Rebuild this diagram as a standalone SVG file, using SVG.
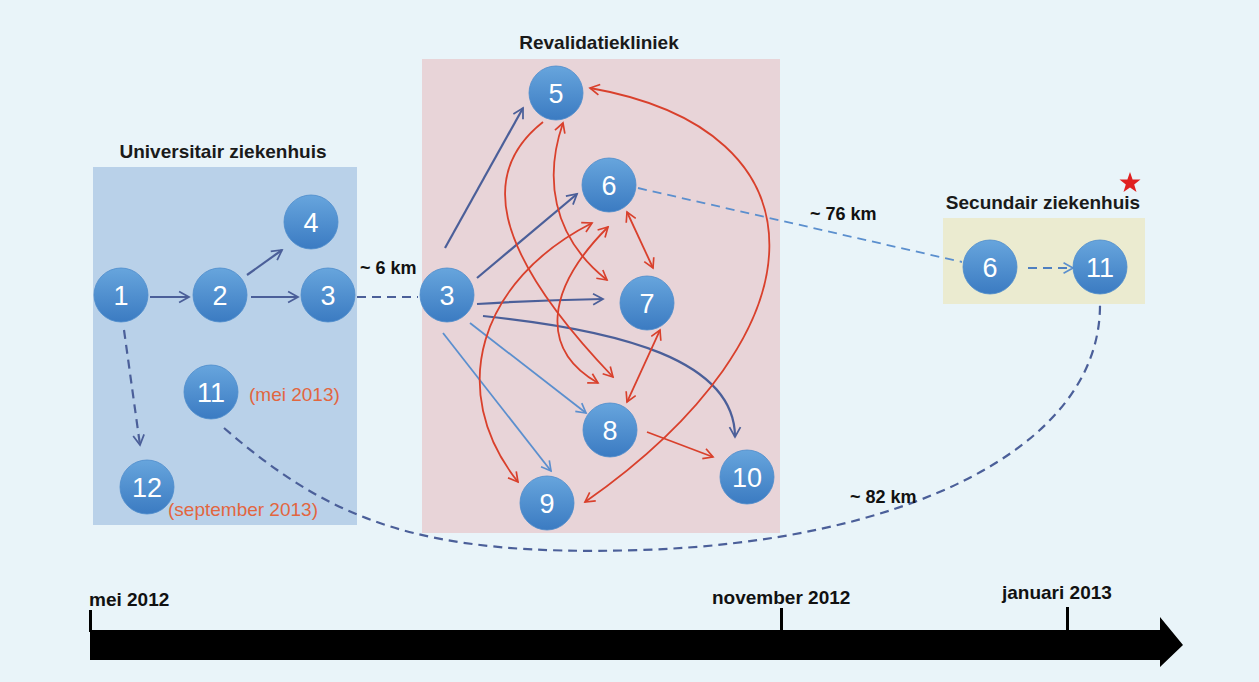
<svg xmlns="http://www.w3.org/2000/svg" width="1259" height="682" viewBox="0 0 1259 682">
<style>
.title{font-family:"Liberation Sans",Arial,sans-serif;font-weight:bold;font-size:19px;fill:#1a1a1a}
.km{font-family:"Liberation Sans",Arial,sans-serif;font-weight:bold;font-size:18px;fill:#111}
.tl{font-family:"Liberation Sans",Arial,sans-serif;font-weight:bold;font-size:19px;fill:#111}
.num{font-family:"Liberation Sans",Arial,sans-serif;font-size:27px;fill:#fff;text-anchor:middle;dominant-baseline:central}
.date{font-family:"Liberation Sans",Arial,sans-serif;font-size:19px;fill:#e2663f}
.node{fill:url(#ng);stroke:#4d8ccc;stroke-width:0.8}
.db{fill:none;stroke:#4b5f99;stroke-width:2.2}
.lb{fill:none;stroke:#5b8fce;stroke-width:1.8}
.rd{fill:none;stroke:#d9402c;stroke-width:1.8}
.dash{stroke-dasharray:9 6}
</style>
<defs>
<linearGradient id="ng" x1="0" y1="0" x2="0" y2="1">
<stop offset="0" stop-color="#67a5dd"/>
<stop offset="1" stop-color="#3b7bc2"/>
</linearGradient>
<marker id="adb" viewBox="0 0 12 12" refX="10" refY="6" markerWidth="6" markerHeight="6" orient="auto-start-reverse" markerUnits="strokeWidth"><path d="M1,1 L10,6 L1,11" fill="none" stroke="#4b5f99" stroke-width="1.6"/></marker>
<marker id="alb" viewBox="0 0 12 12" refX="10" refY="6" markerWidth="7" markerHeight="7" orient="auto-start-reverse" markerUnits="strokeWidth"><path d="M1,1 L10,6 L1,11" fill="none" stroke="#5b8fce" stroke-width="1.6"/></marker>
<marker id="ard" viewBox="0 0 12 12" refX="10" refY="6" markerWidth="7" markerHeight="7" orient="auto-start-reverse" markerUnits="strokeWidth"><path d="M1,1 L10,6 L1,11" fill="none" stroke="#d9402c" stroke-width="1.6"/></marker>
</defs>
<rect x="0" y="0" width="1259" height="682" fill="#e9f4f9"/>

<g id="universitair">
<rect x="93" y="167" width="264" height="358" fill="#b9d1e9"/>
<text class="title" x="223" y="158" text-anchor="middle">Universitair ziekenhuis</text>
</g>
<g id="revalidatie">
<rect x="422" y="59" width="358" height="474" fill="#e8d4d8"/>
<text class="title" x="599" y="49" text-anchor="middle">Revalidatiekliniek</text>
</g>
<g id="secundair">
<rect x="943" y="218" width="202" height="86" fill="#ebebd0"/>
<text class="title" x="1043" y="209" text-anchor="middle">Secundair ziekenhuis</text>
<polygon points="1130,172 1132.6,179.4 1140.5,179.6 1134.2,184.4 1136.5,192 1130,187.5 1123.5,192 1125.8,184.4 1119.5,179.6 1127.4,179.4" fill="#e02020"/>
</g>

<g id="connectors">
<line class="db" x1="150" y1="297" x2="189" y2="297" marker-end="url(#adb)"/>
<line class="db" x1="247" y1="275" x2="282" y2="250" marker-end="url(#adb)"/>
<line class="db" x1="251" y1="297" x2="298" y2="297" marker-end="url(#adb)"/>
<line class="db dash" x1="124" y1="330" x2="140" y2="445" marker-end="url(#adb)"/>
<line class="db dash" x1="357" y1="297" x2="418" y2="297"/>
<path class="db dash" d="M224 428 C330 520 420 557 640 550 C900 542 1100 450 1100 305"/>
<line class="lb dash" x1="638" y1="188" x2="962" y2="262"/>
<line class="lb dash" x1="1028" y1="268" x2="1073" y2="268" marker-end="url(#alb)" style="stroke:#4f7fc0"/>

<line class="db" x1="445" y1="248" x2="523" y2="108" marker-end="url(#adb)"/>
<line class="db" x1="477" y1="278" x2="577" y2="194" marker-end="url(#adb)"/>
<path class="db" d="M477 304 Q540 300 603 299" marker-end="url(#adb)"/>
<path class="db" d="M483 316 C620 330 735 360 735 437" marker-end="url(#adb)"/>
<line class="lb" x1="470" y1="323" x2="586" y2="413" marker-end="url(#alb)"/>
<line class="lb" x1="443" y1="333" x2="551" y2="471" marker-end="url(#alb)"/>

<path class="rd" d="M543 122 C482 170 487 245 613 377" marker-end="url(#ard)"/>
<path class="rd" d="M563 123 C545 175 550 235 607 280" marker-start="url(#ard)" marker-end="url(#ard)"/>
<path class="rd" d="M592 223 C480 280 445 390 518 482" marker-start="url(#ard)" marker-end="url(#ard)"/>
<path class="rd" d="M608 227 C545 290 540 350 598 383" marker-start="url(#ard)" marker-end="url(#ard)"/>
<line class="rd" x1="627" y1="212" x2="653" y2="268" marker-start="url(#ard)" marker-end="url(#ard)"/>
<line class="rd" x1="660" y1="330" x2="627" y2="402" marker-start="url(#ard)" marker-end="url(#ard)"/>
<line class="rd" x1="647" y1="432" x2="713" y2="457" marker-end="url(#ard)"/>
<path class="rd" d="M590 88 C830 130 830 330 585 502" marker-start="url(#ard)" marker-end="url(#ard)"/>

<text class="km" x="360" y="274">~ 6 km</text>
<text class="km" x="810" y="220">~ 76 km</text>
<text class="km" x="850" y="503">~ 82 km</text>
</g>

<g id="n1"><circle class="node" cx="121" cy="295" r="27"/><text class="num" x="121" y="296">1</text></g>
<g id="n2"><circle class="node" cx="220" cy="295" r="27"/><text class="num" x="220" y="296">2</text></g>
<g id="n4"><circle class="node" cx="311" cy="222" r="27"/><text class="num" x="311" y="223">4</text></g>
<g id="n3a"><circle class="node" cx="328" cy="295" r="27"/><text class="num" x="328" y="296">3</text></g>
<g id="n11a"><circle class="node" cx="211" cy="392" r="27"/><text class="num" x="211" y="393">11</text><text class="date" x="249" y="401">(mei 2013)</text></g>
<g id="n12"><circle class="node" cx="147" cy="487" r="27"/><text class="num" x="147" y="488">12</text><text class="date" x="168" y="516">(september 2013)</text></g>

<g id="n3b"><circle class="node" cx="447" cy="295" r="27"/><text class="num" x="447" y="296">3</text></g>
<g id="n5"><circle class="node" cx="556" cy="93" r="27"/><text class="num" x="556" y="94">5</text></g>
<g id="n6a"><circle class="node" cx="609" cy="185" r="27"/><text class="num" x="609" y="186">6</text></g>
<g id="n7"><circle class="node" cx="647" cy="303" r="27"/><text class="num" x="647" y="304">7</text></g>
<g id="n8"><circle class="node" cx="610" cy="430" r="27"/><text class="num" x="610" y="431">8</text></g>
<g id="n9"><circle class="node" cx="547" cy="503" r="27"/><text class="num" x="547" y="504">9</text></g>
<g id="n10"><circle class="node" cx="747" cy="477" r="27"/><text class="num" x="747" y="478">10</text></g>

<g id="n6b"><circle class="node" cx="990" cy="267" r="27"/><text class="num" x="990" y="268">6</text></g>
<g id="n11b"><circle class="node" cx="1100" cy="267" r="27"/><text class="num" x="1100" y="268">11</text></g>

<g id="timeline">
<polygon points="90,630 1160,630 1160,617 1183,645 1160,667 1160,660 90,660" fill="#000"/>
<rect x="89" y="610" width="3" height="22" fill="#000"/>
<rect x="780" y="608" width="3" height="24" fill="#000"/>
<rect x="1066" y="607" width="3" height="25" fill="#000"/>
<text class="tl" x="89" y="606">mei 2012</text>
<text class="tl" x="712" y="604">november 2012</text>
<text class="tl" x="1002" y="599">januari 2013</text>
</g>
</svg>
